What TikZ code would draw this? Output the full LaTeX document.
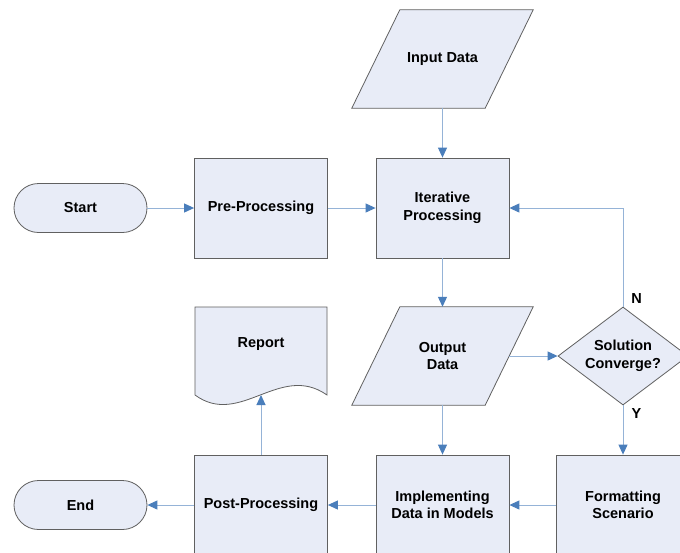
\documentclass[tikz,border=0pt]{standalone}
\usepackage{fontspec}
\setmainfont{Liberation Sans}
\usetikzlibrary{arrows.meta,shapes.geometric,backgrounds}

\definecolor{boxfill}{HTML}{E8ECF7}
\definecolor{boxline}{HTML}{606060}
\definecolor{flowline}{HTML}{95B3D7}
\definecolor{flowhead}{HTML}{4A7EBB}

\tikzset{
  shapeline/.style={draw=boxline, line width=0.8pt, fill=boxfill},
  label text/.style={font=\fontsize{14.5}{17.5}\selectfont\bfseries, align=center, text=black},
  process/.style={shapeline, label text, rectangle, minimum width=133pt, minimum height=100pt, inner sep=0pt},
  terminal/.style={shapeline, label text, rectangle, rounded corners=24.5pt, minimum width=133pt, minimum height=49pt, inner sep=0pt},
  dataslot/.style={label text, rectangle, minimum width=133pt, minimum height=98pt, inner sep=0pt},
  decision/.style={shapeline, label text, diamond, aspect=1.33, minimum width=130pt, minimum height=98pt, inner sep=0pt},
  flow/.style={draw=flowline, line width=1pt, -{Triangle[length=10pt,width=9pt,color=flowhead]}},
  branch/.style={font=\fontsize{14.5}{17.5}\selectfont\bfseries, text=black}
}

\begin{document}
\begin{tikzpicture}[x=1pt,y=-1pt]
  \useasboundingbox (0,0) rectangle (680,552);

  % upper row
  \node[terminal] (start) at (80.5,208) {Start};
  \node[process] (pre) at (261,208) {Pre-Processing};
  \node[process] (iter) at (442.5,208) {Iterative\\Processing};

  % data blocks: text slots, parallelogram outlines go behind them
  \node[dataslot] (input) at (442.5,59) {Input Data};
  \node[dataslot] (output) at (442.5,356) {Output\\Data};

  \node[decision] (check) at (623,356) {Solution\\Converge?};

  % report document
  \node[label text] (report) at (261,344) {Report};
  \coordinate (report-foot) at (261,395);

  % lower row
  \node[terminal] (end) at (80.5,505) {End};
  \node[process] (post) at (261,505) {Post-Processing};
  \node[process] (implement) at (442.5,505) {Implementing\\Data in Models};
  \node[process] (format) at (623,505) {Formatting\\Scenario};

  \begin{scope}[on background layer]
    \fill[white] (0,0) rectangle (680,552);
    \foreach \d in {input,output}{
      \draw[shapeline]
        ([xshift=-24pt]\d.south west) -- ([xshift=-24pt]\d.south east)
        -- ([xshift=24pt]\d.north east) -- ([xshift=24pt]\d.north west) -- cycle;
    }
    \draw[shapeline] (195,307) -- (327,307) -- (327,395)
      .. controls (280,362) and (240,428) .. (195,395) -- cycle;
  \end{scope}

  % connectors
  \draw[flow] (start) -- (pre);
  \draw[flow] (pre) -- (iter);
  \draw[flow] (input) -- (iter);
  \draw[flow] (iter) -- (output);
  \draw[flow] (output.east) -- (check);
  \draw[flow] (check.north) |- (iter.east);
  \draw[flow] (check.south) -- (format.north);
  \draw[flow] (output) -- (implement);
  \draw[flow] (format) -- (implement);
  \draw[flow] (implement) -- (post);
  \draw[flow] (post) -- (end);
  \draw[flow] (post) -- (report-foot);

  \node[branch] (no) at (636.5,299) {N};
  \node[branch] (yes) at (636.5,414) {Y};
\end{tikzpicture}
\end{document}
